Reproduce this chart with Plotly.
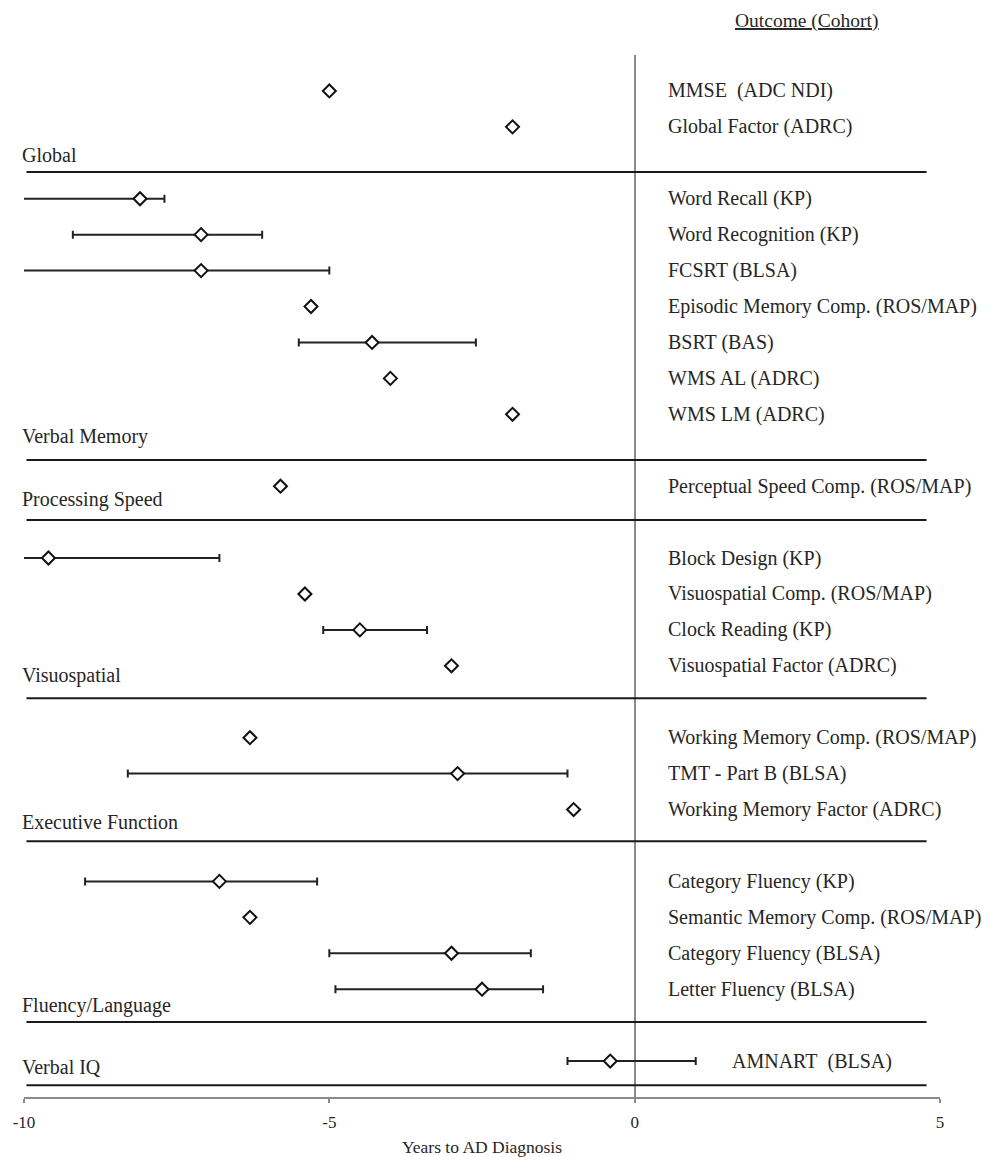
import plotly.graph_objects as go

# ---------------- data ----------------
outcomes = [
    "MMSE\u00a0 (ADC NDI)", "Global Factor (ADRC)",
    "Word Recall (KP)", "Word Recognition (KP)", "FCSRT (BLSA)",
    "Episodic Memory Comp. (ROS/MAP)", "BSRT (BAS)", "WMS AL (ADRC)", "WMS LM (ADRC)",
    "Perceptual Speed Comp. (ROS/MAP)",
    "Block Design (KP)", "Visuospatial Comp. (ROS/MAP)", "Clock Reading (KP)",
    "Visuospatial Factor (ADRC)",
    "Working Memory Comp. (ROS/MAP)", "TMT - Part B (BLSA)", "Working Memory Factor (ADRC)",
    "Category Fluency (KP)", "Semantic Memory Comp. (ROS/MAP)", "Category Fluency (BLSA)",
    "Letter Fluency (BLSA)",
    "AMNART\u00a0 (BLSA)",
]
domains = (["Global"] * 2 + ["Verbal Memory"] * 7 + ["Processing Speed"] * 1 +
           ["Visuospatial"] * 4 + ["Executive Function"] * 3 + ["Fluency/Language"] * 4 +
           ["Verbal IQ"] * 1)
years = [-5.0, -2.0, -8.1, -7.1, -7.1, -5.3, -4.3, -4.0, -2.0, -5.8, -9.6, -5.4, -4.5,
         -3.0, -6.3, -2.9, -1.0, -6.8, -6.3, -3.0, -2.5, -0.4]
ci_low = [None, None, -10.6, -9.2, -10.6, None, -5.5, None, None, None, -10.3, None, -5.1,
          None, None, -8.3, None, -9.0, None, -5.0, -4.9, -1.1]
ci_high = [None, None, -7.7, -6.1, -5.0, None, -2.6, None, None, None, -6.8, None, -3.4,
           None, None, -1.1, None, -5.2, None, -1.7, -1.5, 1.0]
tick_vals = [-10, -5, 0, 5]
tick_text = ["-10", "-5", "0", "5"]
domain_names = ["Global", "Verbal Memory", "Processing Speed", "Visuospatial",
                "Executive Function", "Fluency/Language", "Verbal IQ"]

# ---------------- layout helpers (row positions) ----------------
rows = []
r = 0
for i, d in enumerate(domains):
    if i > 0 and d != domains[i - 1]:
        r += 1
    rows.append(r)
    r += 1

# separator line / label offsets below each section's last row (layout)
line_off = [1.256, 1.27, 0.94, 0.90, 0.88, 0.91, 0.67]
label_off = [0.78, 0.63, 0.38, 0.28, 0.35, 0.44, 0.17]
last_row = {d: max(rr for rr, dd in zip(rows, domains) if dd == d) for d in domain_names}

SERIF = "Liberation Serif, Times New Roman, serif"
TXT = "#262626"

# the page body adds an 8px offset; the figure is sized to fit the window
OFF = 8
W, H = 989 - OFF, 1157 - OFF
PL, PT, PR, PB = 24, 55, 940, 1097   # plot-area edges in window pixels
ML, MT, MR, MB = PL - OFF, PT - OFF, 989 - PR, 1157 - PB
PW, PH = PR - PL, PB - PT

fig = go.Figure()

# estimates with confidence intervals
idx_ci = [i for i in range(len(years)) if ci_low[i] is not None]
fig.add_trace(go.Scatter(
    x=[years[i] for i in idx_ci], y=[rows[i] for i in idx_ci], mode="markers",
    marker=dict(symbol="diamond", size=10, color="white", line=dict(color="#111", width=2)),
    error_x=dict(type="data", symmetric=False,
                 array=[ci_high[i] - years[i] for i in idx_ci],
                 arrayminus=[years[i] - ci_low[i] for i in idx_ci],
                 color="#222", thickness=2, width=4),
    showlegend=False, hoverinfo="skip"))
# estimates without intervals
idx_pt = [i for i in range(len(years)) if ci_low[i] is None]
fig.add_trace(go.Scatter(
    x=[years[i] for i in idx_pt], y=[rows[i] for i in idx_pt], mode="markers",
    marker=dict(symbol="diamond", size=10, color="white", line=dict(color="#111", width=2)),
    showlegend=False, hoverinfo="skip"))

# outcome labels on the right
for i, name in enumerate(outcomes):
    xpos = 1.56 if domains[i] == "Verbal IQ" else 0.52
    fig.add_annotation(x=xpos, y=rows[i], xref="x", yref="y", text=name, showarrow=False,
                       xanchor="left", yanchor="middle",
                       font=dict(family=SERIF, size=20, color=TXT))

# section labels and separator lines
for k, d in enumerate(domain_names):
    lr = last_row[d]
    fig.add_annotation(x=(20 - PL) / PW, y=lr + label_off[k], xref="paper", yref="y", text=d,
                       showarrow=False, xanchor="left", yanchor="middle",
                       font=dict(family=SERIF, size=20, color=TXT))
    fig.add_shape(type="line", xref="x", yref="y", x0=-9.96, x1=4.78,
                  y0=lr + line_off[k], y1=lr + line_off[k],
                  line=dict(color="#1a1a1a", width=2))

fig.add_annotation(xref="paper", yref="paper", x=(807 - PL) / PW, y=1 + (PT - 21) / PH,
                   text="Outcome (Cohort)", showarrow=False, xanchor="center",
                   yanchor="middle",
                   font=dict(family=SERIF, size=19.5, color=TXT, lineposition="under"))

fig.update_layout(
    width=W, height=H,
    margin=dict(l=ML, r=MR, t=MT, b=MB, autoexpand=False),
    paper_bgcolor="white", plot_bgcolor="white",
    xaxis=dict(range=[-10, 5], tickvals=tick_vals, ticktext=tick_text,
               showgrid=False, zeroline=True, zerolinecolor="#8a8a8a", zerolinewidth=1.5,
               showline=True, linecolor="#8a8a8a", linewidth=1.5,
               ticks="outside", ticklen=4, tickcolor="#8a8a8a", tickwidth=1.5,
               ticklabelstandoff=5,
               tickfont=dict(family=SERIF, size=17, color=TXT),
               title=dict(text="Years to AD Diagnosis", standoff=12,
                          font=dict(family=SERIF, size=17.5, color=TXT))),
    yaxis=dict(range=[28.0, -1.0], visible=False, showgrid=False, zeroline=False),
)

fig.write_html("out.html")
